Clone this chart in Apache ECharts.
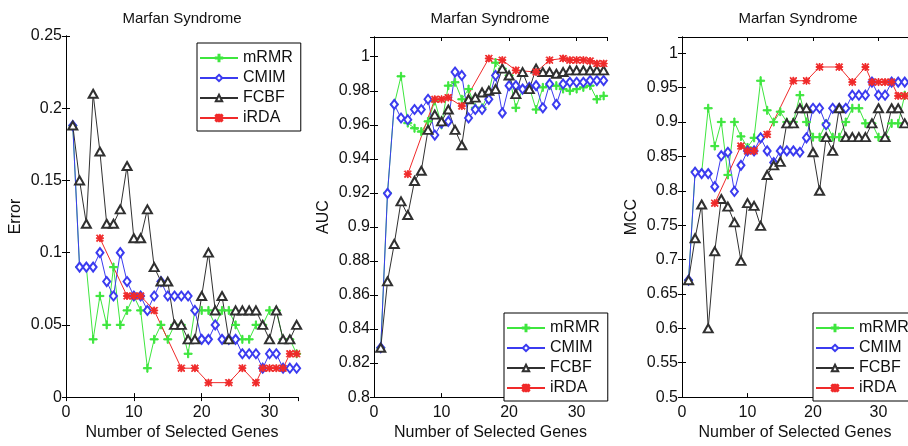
<!DOCTYPE html>
<html><head><meta charset="utf-8">
<script src="https://cdn.jsdelivr.net/npm/echarts@6/dist/echarts.min.js"></script>
<style>html,body{margin:0;padding:0;background:#fff}#c{width:908px;height:446px}</style>
</head><body><div id="c"></div>
<script>
// ---- data ----
var genes = [1,2,3,4,5,6,7,8,9,10,11,12,13,14,15,16,17,18,19,20,21,22,23,24,25,26,27,28,29,30,31,32,33,34];
var irdaGenes = [5,9,10,11,13,17,19,21,24,26,28,29,30,31,32,33,34];
var seriesNames = ['mRMR','CMIM','FCBF','iRDA'];
var panelTitles = ['Marfan Syndrome','Marfan Syndrome','Marfan Syndrome'];
var yNames = ['Error','AUC','MCC'];
var xName = 'Number of Selected Genes';

var errMRMR = [0.188,0.09,0.09,0.04,0.07,0.05,0.09,0.05,0.06,0.07,0.06,0.02,0.04,0.05,0.04,0.05,0.05,0.03,0.06,0.06,0.06,0.05,0.06,0.06,0.05,0.04,0.04,0.05,0.05,0.06,0.06,0.04,0.04,0.03];
var errCMIM = [0.188,0.09,0.09,0.09,0.10,0.08,0.07,0.10,0.08,0.07,0.07,0.06,0.07,0.08,0.07,0.07,0.07,0.07,0.06,0.04,0.04,0.05,0.04,0.04,0.04,0.03,0.03,0.03,0.02,0.03,0.03,0.02,0.02,0.02];
var errFCBF = [0.188,0.15,0.12,0.21,0.17,0.12,0.12,0.13,0.16,0.11,0.11,0.13,0.09,0.08,0.08,0.05,0.05,0.04,0.04,0.07,0.10,0.06,0.07,0.04,0.06,0.06,0.06,0.06,0.05,0.04,0.06,0.04,0.04,0.05];
var errIRDA = [0.11,0.07,0.07,0.07,0.06,0.02,0.02,0.01,0.01,0.02,0.01,0.02,0.02,0.02,0.02,0.03,0.03];

var aucMRMR = [0.829,0.920,0.972,0.9885,0.961,0.958,0.956,0.962,0.974,0.960,0.983,0.985,0.975,0.981,0.970,0.970,0.979,0.9965,0.993,0.989,0.970,0.981,0.982,0.969,0.982,0.983,0.983,0.981,0.980,0.981,0.982,0.983,0.975,0.977];
var aucCMIM = [0.829,0.9197,0.972,0.964,0.963,0.969,0.969,0.975,0.954,0.961,0.962,0.991,0.989,0.964,0.969,0.969,0.975,0.989,0.967,0.983,0.983,0.981,0.982,0.983,0.970,0.984,0.972,0.984,0.985,0.985,0.985,0.986,0.986,0.986];
var aucFCBF = [0.829,0.868,0.890,0.915,0.907,0.927,0.933,0.957,0.966,0.962,0.969,0.957,0.948,0.975,0.976,0.979,0.980,0.981,0.993,0.989,0.978,0.991,0.981,0.993,0.991,0.991,0.990,0.991,0.992,0.992,0.992,0.992,0.992,0.992];
var aucIRDA = [0.931,0.975,0.975,0.976,0.971,0.999,0.998,0.992,0.991,0.998,0.999,0.998,0.998,0.998,0.9975,0.996,0.996];

var mccMRMR = [0.67,0.828,0.826,0.92,0.865,0.90,0.823,0.90,0.879,0.863,0.877,0.96,0.917,0.90,0.915,0.90,0.90,0.939,0.90,0.878,0.878,0.898,0.878,0.878,0.90,0.92,0.92,0.898,0.898,0.878,0.878,0.898,0.898,0.939];
var mccCMIM = [0.67,0.827,0.825,0.825,0.806,0.851,0.856,0.799,0.837,0.858,0.858,0.877,0.858,0.841,0.858,0.858,0.858,0.856,0.877,0.92,0.92,0.896,0.92,0.92,0.92,0.939,0.939,0.939,0.958,0.939,0.939,0.958,0.958,0.958];
var mccFCBF = [0.67,0.731,0.78,0.60,0.712,0.788,0.777,0.754,0.698,0.782,0.778,0.749,0.823,0.837,0.842,0.898,0.898,0.92,0.92,0.856,0.80,0.878,0.858,0.92,0.878,0.878,0.878,0.878,0.898,0.92,0.878,0.92,0.92,0.898];
var mccIRDA = [0.782,0.865,0.858,0.858,0.882,0.96,0.96,0.98,0.98,0.958,0.98,0.958,0.958,0.958,0.958,0.938,0.938];

// ---- layout / style ----
var panels = [
  {left:66, top:36, width:232, height:369, xMax:34.2, yMin:0, yMax:0.25, yInt:0.05,
   vals:[errMRMR,errCMIM,errFCBF,errIRDA], legend:{left:197, top:43}},
  {left:374, top:37, width:233, height:369, xMax:34.5, yMin:0.8, yMax:1.0116, yInt:0.02,
   vals:[aucMRMR,aucCMIM,aucFCBF,aucIRDA], legend:{left:504, top:313}},
  {left:682, top:37, width:232, height:369, xMax:34.5, yMin:0.5, yMax:1.0236, yInt:0.05,
   vals:[mccMRMR,mccCMIM,mccFCBF,mccIRDA], legend:{left:813, top:313}}
];
var colors = ['#3ee63e','#3b3bf0','#303030','#f02a2a'];
var plusPath = 'path://M3.4,0h1.2v8h-1.2z M0,3.4h8v1.2h-8z';
var starPath = 'path://M3.4,0h1.2v8h-1.2z M0,3.4h8v1.2h-8z M0.8,0L8,7.2L7.2,8L0,0.8Z M7.2,0L8,0.8L0.8,8L0,7.2Z';
var symbols = [plusPath,'emptyDiamond','emptyTriangle',starPath];
var symSizes = [8,[7,9],[9,8],7];
var font = 'Liberation Sans, Arial, sans-serif';
var txt = '#111';

var grids=[], xAxes=[], yAxes=[], series=[], legends=[], graphics=[];
panels.forEach(function(p, gi){
  grids.push({left:p.left, top:p.top, width:p.width, height:p.height, show:false});
  var xBase = {type:'value', gridIndex:gi, min:0, max:p.xMax, interval:10, splitLine:{show:false},
    axisLine:{show:true, lineStyle:{color:'#000', width:1}},
    axisTick:{show:true, inside:true, length:4, lineStyle:{color:'#000'}}};
  xAxes.push(Object.assign({}, xBase, {position:'bottom', name:xName, nameLocation:'middle', nameGap:27,
    nameTextStyle:{fontSize:16, color:txt, fontFamily:font},
    axisLabel:{fontSize:16, color:txt, fontFamily:font, margin:7, showMaxLabel:false}}));
  xAxes.push(Object.assign({}, xBase, {position:'top', axisLabel:{show:false}}));
  var yBase = {type:'value', gridIndex:gi, min:p.yMin, max:p.yMax, interval:p.yInt, splitLine:{show:false},
    axisLine:{show:true, lineStyle:{color:'#000', width:1}},
    axisTick:{show:true, inside:true, length:4, lineStyle:{color:'#000'}}};
  yAxes.push(Object.assign({}, yBase, {position:'left', name:yNames[gi], nameLocation:'middle', nameGap:42,
    nameTextStyle:{fontSize:16, color:txt, fontFamily:font},
    axisLabel:{fontSize:16, color:txt, fontFamily:font, margin:4, showMaxLabel: gi===0}}));
  yAxes.push(Object.assign({}, yBase, {position:'right', axisLabel:{show:false}}));
  seriesNames.forEach(function(nm, si){
    var xs = si===3 ? irdaGenes : genes;
    var ys = p.vals[si];
    series.push({type:'line', name:nm, xAxisIndex:gi*2, yAxisIndex:gi*2,
      data: xs.map(function(x,i){return [x, ys[i]];}),
      symbol:symbols[si], symbolSize:symSizes[si], showAllSymbol:true,
      color:colors[si],
      lineStyle:{color:colors[si], width:1},
      itemStyle:{color:colors[si], borderColor:colors[si], borderWidth:1},
      animation:false, clip:true});
  });
  legends.push({data:seriesNames, orient:'vertical', left:p.legend.left, top:p.legend.top,
    itemWidth:38, itemHeight:8, itemGap:4, padding:[7,8,5,2],
    borderColor:'#000', borderWidth:1, backgroundColor:'#fff',
    textStyle:{fontSize:16, color:txt, fontFamily:font}, selectedMode:false});
  graphics.push({type:'text', x:p.left + 116, y:19, silent:true,
    style:{text:panelTitles[gi], fill:txt, font:'15px '+font, textAlign:'center', textVerticalAlign:'middle'}});
});

var chart = echarts.init(document.getElementById('c'), null, {renderer:'canvas'});
chart.setOption({
  animation:false, backgroundColor:'#fff',
  grid:grids, xAxis:xAxes, yAxis:yAxes, series:series, legend:legends, graphic:graphics
});
</script></body></html>
